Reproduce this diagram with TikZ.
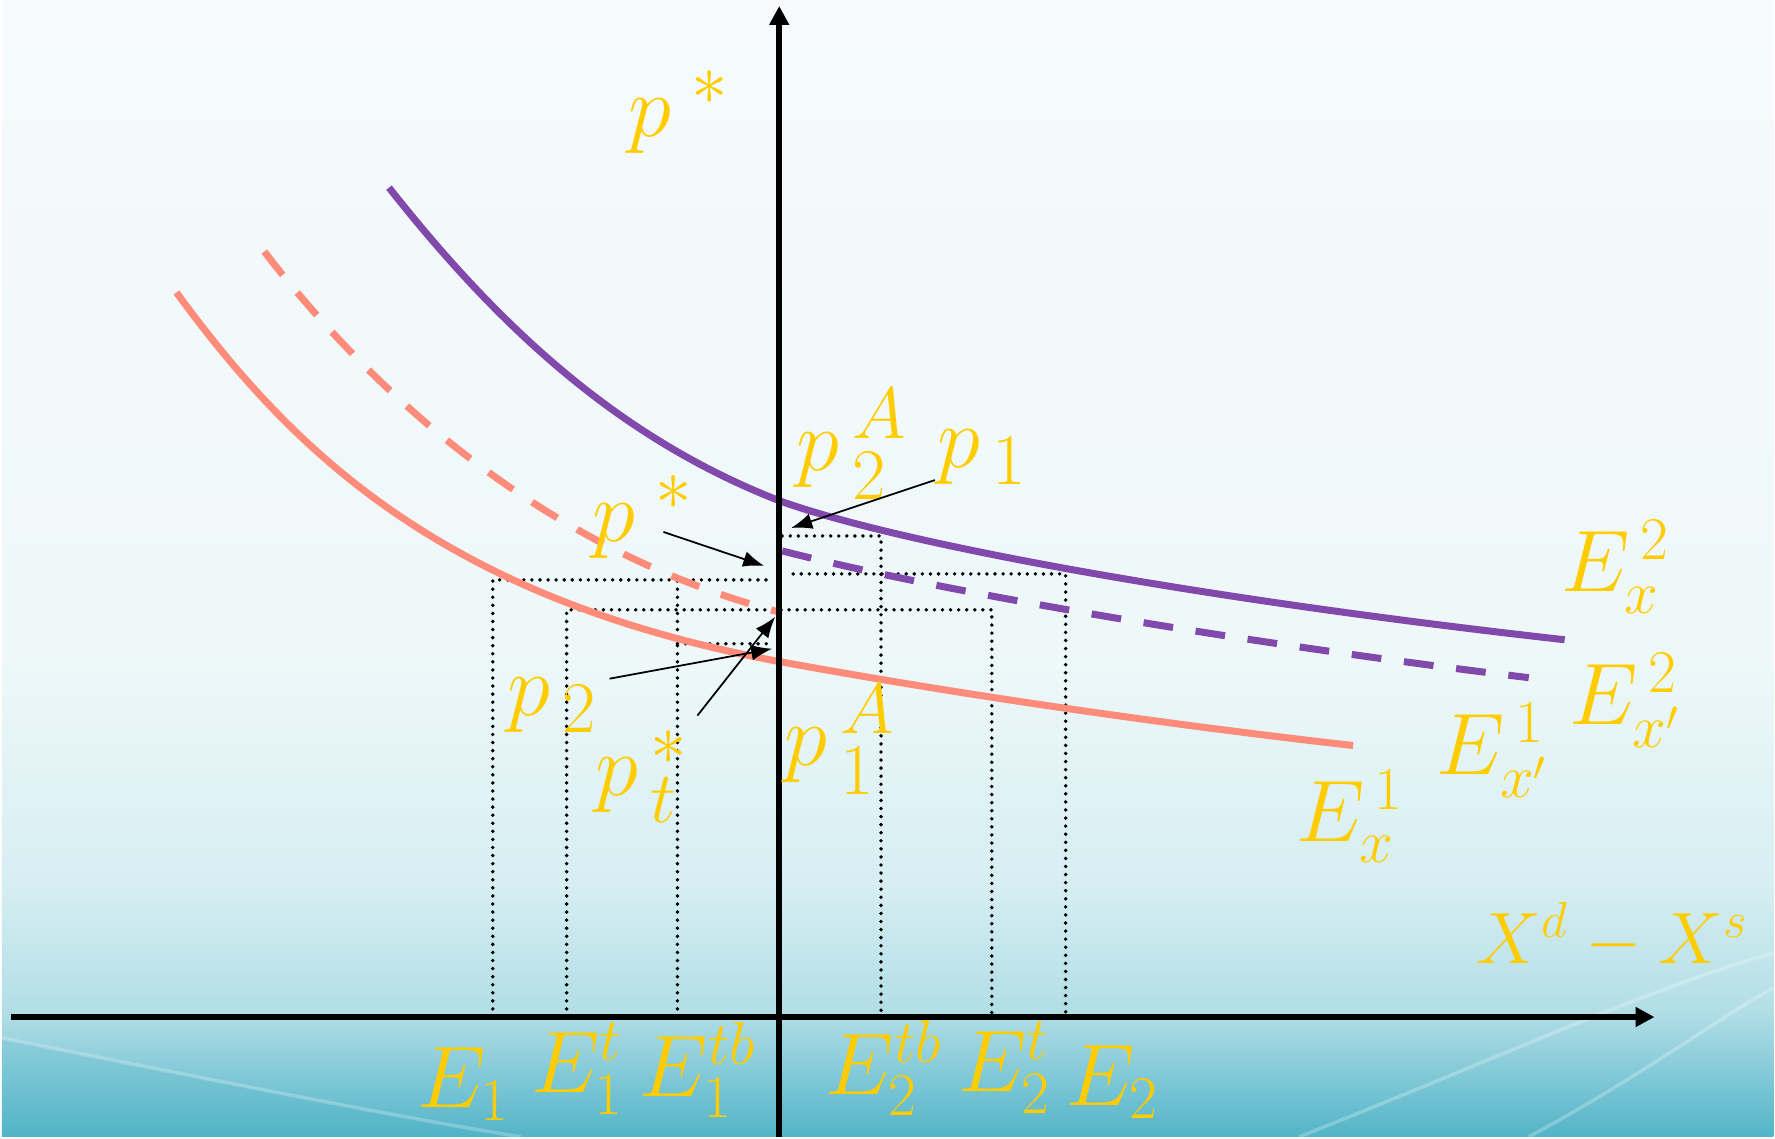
\documentclass[tikz,border=0pt]{standalone}
\usepackage{amsmath}
\usepackage{tikz}
\usetikzlibrary{arrows.meta}
\definecolor{curvepurple}{RGB}{130,73,173}
\definecolor{curvesalmon}{RGB}{255,140,122}
\definecolor{labelgold}{RGB}{255,204,0}
\definecolor{bgtop}{RGB}{246,250,252}
\definecolor{bgmid}{RGB}{238,248,249}
\definecolor{bglow}{RGB}{214,238,242}
\definecolor{bgaxis}{RGB}{178,222,230}
\definecolor{bgbot}{RGB}{82,180,200}
\pgfdeclareverticalshading{slidebg}{100bp}{color(0bp)=(bgbot); color(25bp)=(bgbot);
  color(30.5bp)=(bgaxis); color(36bp)=(bglow); color(46bp)=(bgmid);
  color(75bp)=(bgtop); color(100bp)=(bgtop)}

\begin{document}
\begin{tikzpicture}[
      x=0.01cm,y=-0.01cm,
      axis/.style={line width=1.7pt,-{Triangle[length=5.4pt,width=5.4pt]}},
      curve/.style={line width=2pt},
      dashcurve/.style={curve,dash pattern=on 8.5pt off 6.5pt},
      guide/.style={line width=1.1pt,line cap=round,dash pattern=on 0pt off 2.3pt},
      pointer/.style={line width=0.5pt,-{Latex[length=6pt,width=4.5pt]}},
      plbl/.style={text=labelgold,inner sep=0pt,font=\fontsize{29}{34}\selectfont},
      elbl/.style={text=labelgold,inner sep=0pt,font=\fontsize{24}{29}\selectfont}]

    % slide background
    \shade[shading=slidebg] (0,0) rectangle (1775,1139);
    \fill[bgbot,opacity=0.2] (0,1040) .. controls (200,1080) and (400,1120) .. (520,1139) -- (0,1139) -- cycle;
    \draw[white,opacity=0.25,line width=1pt] (0,1040) .. controls (200,1080) and (400,1120) .. (520,1139);
    \draw[white,opacity=0.25,line width=1pt] (1300,1139) .. controls (1500,1060) and (1650,990) .. (1775,955);
    \draw[white,opacity=0.25,line width=1pt] (1530,1139) .. controls (1640,1080) and (1720,1020) .. (1775,990);
    \useasboundingbox (0,0) rectangle (1775,1139);

    % dotted guides
    \draw[guide] (782,537) -- (881,537) -- (881,1019);
    \draw[guide] (492,1019) -- (492,581) -- (773,581);
    \draw[guide] (793,575) -- (1066,575) -- (1066,1019);
    \draw[guide] (566,1019) -- (566,611) -- (992,611) -- (992,1019);
    \draw[guide] (677,1019) -- (677,581);
    \draw[guide] (677,645) -- (773,645);

    % curves
    \draw[curve,curvesalmon] (175,293) .. controls (290,450) and (440,600) .. (780,663)
      .. controls (900,685) and (1100,718) .. (1354,747);
    \draw[dashcurve,curvesalmon] (263,252) .. controls (350,365) and (520,545) .. (778,613);
    \draw[curve,curvepurple] (388,188) .. controls (500,330) and (620,440) .. (780,502)
      .. controls (900,545) and (1200,600) .. (1566,641);
    \draw[dashcurve,curvepurple] (782,552) .. controls (950,595) and (1250,645) .. (1530,679);

    % axes
    \coordinate (xstart) at (9,1019);
    \coordinate (xend) at (1656,1019);
    \coordinate (ybot) at (779,1139);
    \coordinate (ytop) at (779,6);
    \draw[axis] (xstart) -- (xend);
    \draw[axis] (ybot) -- (ytop);

    % price labels
    \node[plbl] (pstartop) at (679,112) {$p^{\;*}$};
    \node[plbl] (pstar) at (643,518) {$p^{\;*}$};
    \node[plbl] (p2A) at (852,445) {$p_{\,2}^{\,A}$};
    \node[plbl] (p1) at (983,458) {$p_{\,1}$};
    \node[plbl] (p2) at (552,707) {$p_{\,2}$};
    \node[plbl] (ptstar) at (642,778) {$p_{\,t}^{\,*}$};
    \node[plbl] (p1A) at (840,741) {$p_{\,1}^{\,A}$};

    % curve labels
    \node[elbl] (Ex2) at (1617,568) {$E_{x}^{\,2}$};
    \node[elbl] (Exp2) at (1627,702) {$E_{x'}^{\,2}$};
    \node[elbl] (Exp1) at (1494,752) {$E_{x'}^{\,1}$};
    \node[elbl] (Ex1) at (1351,818) {$E_{x}^{\,1}$};
    \node[elbl,font=\fontsize{22}{27}\selectfont] (XdXs) at (1614,938) {$X^{d}-X^{s}$};

    % quantity labels
    \node[elbl] (E1) at (463,1086) {$E_{1}$};
    \node[elbl] (E1t) at (577,1071) {$E_{1}^{t}$};
    \node[elbl] (E1tb) at (698,1072) {$E_{1}^{tb}$};
    \node[elbl] (E2tb) at (884,1070) {$E_{2}^{tb}$};
    \node[elbl] (E2t) at (1005,1070) {$E_{2}^{t}$};
    \node[elbl] (E2) at (1113,1084) {$E_{2}$};

    % pointers
    \coordinate (p1tail) at (935,481);
    \coordinate (p1tip) at (791,529);
    \coordinate (pstartail) at (663,533);
    \coordinate (pstartip) at (764,567);
    \coordinate (p2tail) at (609,680);
    \coordinate (p2tip) at (772,650);
    \coordinate (pttail) at (697,717);
    \coordinate (pttip) at (775,618);
    \draw[pointer] (p1tail) -- (p1tip);
    \draw[pointer] (pstartail) -- (pstartip);
    \draw[pointer] (p2tail) -- (p2tip);
    \draw[pointer] (pttail) -- (pttip);
  \end{tikzpicture}
\end{document}
